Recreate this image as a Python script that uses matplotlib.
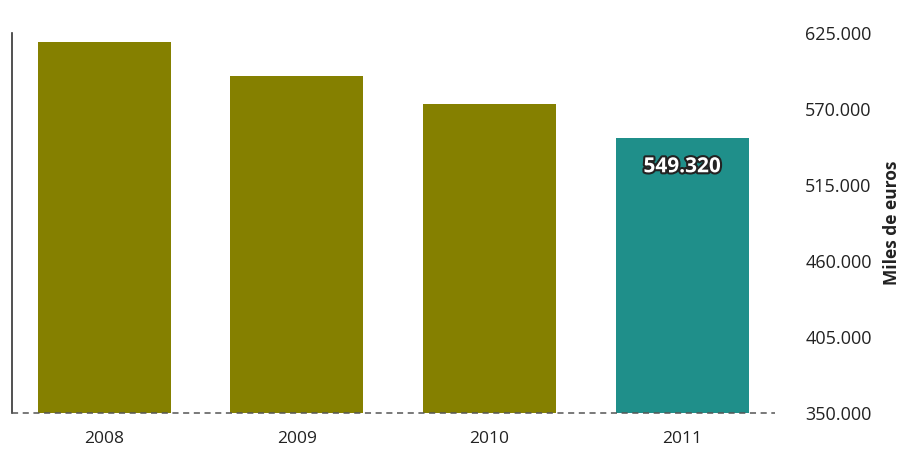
import matplotlib.pyplot as plt
import matplotlib.patheffects as pe
import numpy as np

# Values (miles de euros)
years = ['2008', '2009', '2010', '2011']
values = [618500, 594000, 573500, 549320]
bar_colors = ['#858000', '#858000', '#858000', '#1f8f8a']
y_ticks = [350000, 405000, 460000, 515000, 570000, 625000]

plt.rcParams['font.family'] = ['Open Sans', 'DejaVu Sans']

fig = plt.figure(figsize=(9.04, 4.58), dpi=100)
ax = fig.add_axes([0.013, 0.098, 0.844, 0.83])

x = np.arange(len(years))
ax.bar(x, values, width=0.69, color=bar_colors, zorder=2)

ax.set_xlim(-0.48, 3.48)
ax.set_ylim(350000, 625000)

# right-hand value axis
ax.yaxis.tick_right()
ax.yaxis.set_label_position('right')
ax.set_yticks(y_ticks)
ax.set_yticklabels([f"{v:,}".replace(',', '.') for v in y_ticks], fontsize=13, color='#222222')
ax.tick_params(axis='y', length=0, pad=22)
ax.set_ylabel('Miles de euros', fontsize=12.5, fontweight='bold', color='#222222', labelpad=8)

ax.set_xticks(x)
ax.set_xticklabels(years, fontsize=12.5, color='#222222')
ax.tick_params(axis='x', length=0, pad=13)

# spines: only the left line and a dashed baseline
for side in ['top', 'right', 'bottom']:
    ax.spines[side].set_visible(False)
ax.spines['left'].set_color('#333333')
ax.spines['left'].set_linewidth(1.2)
ax.axhline(350000, color='#555555', linestyle=(0, (4, 3)), linewidth=1.1, zorder=3, clip_on=False)

# value label on the last bar
txt = ax.annotate(f"{values[-1]:,}".replace(',', '.'), xy=(x[-1], values[-1]),
                  xytext=(0, -21), textcoords='offset points', ha='center', va='center',
                  fontsize=15, fontweight='bold', color='white', zorder=4)
txt.set_path_effects([pe.withStroke(linewidth=3, foreground='#222222')])

plt.savefig('out.png', dpi=100)
